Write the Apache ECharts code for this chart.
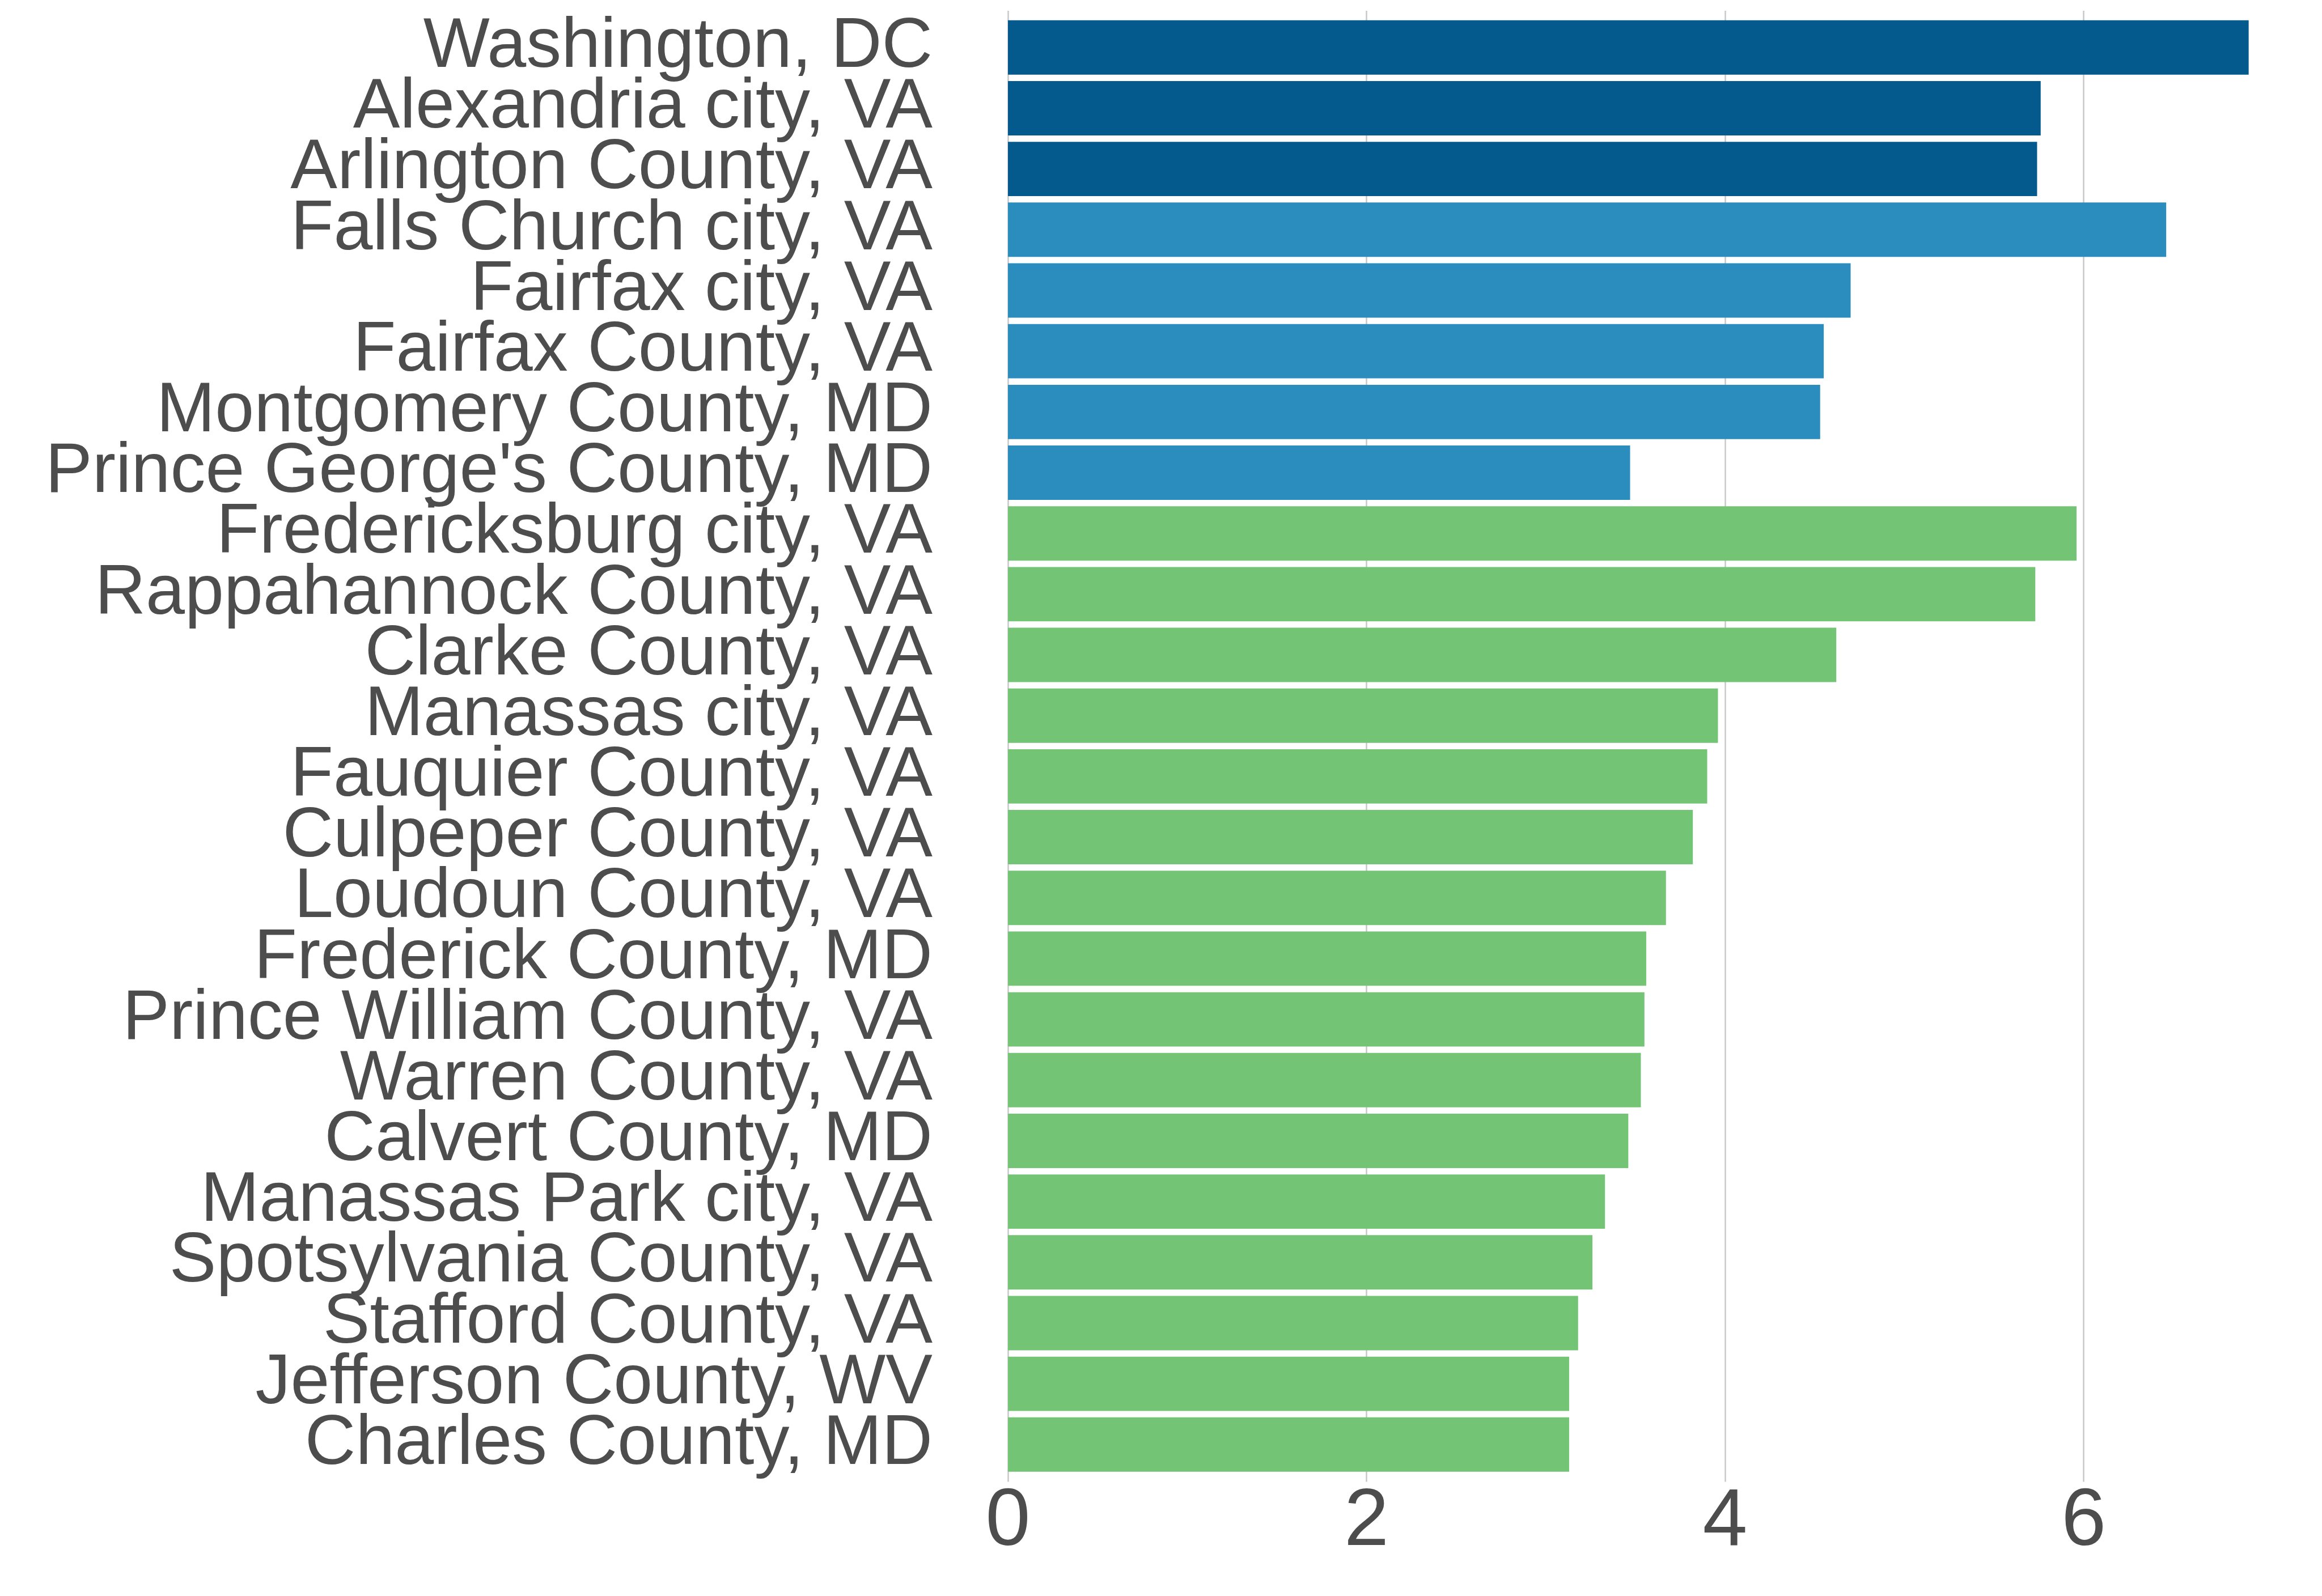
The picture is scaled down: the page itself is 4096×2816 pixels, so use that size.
<!DOCTYPE html>
<html>
<head>
<meta charset="utf-8">
<script src="https://cdn.jsdelivr.net/npm/echarts@6/dist/echarts.min.js"></script>
<style>
html, body { margin: 0; padding: 0; background: #ffffff; }
#chart { width: 4096px; height: 2816px; }
</style>
</head>
<body>
<div id="chart"></div>
<script>
const categories = [
  "Washington, DC", "Alexandria city, VA", "Arlington County, VA",
  "Falls Church city, VA", "Fairfax city, VA", "Fairfax County, VA",
  "Montgomery County, MD", "Prince George's County, MD",
  "Fredericksburg city, VA", "Rappahannock County, VA", "Clarke County, VA",
  "Manassas city, VA", "Fauquier County, VA", "Culpeper County, VA",
  "Loudoun County, VA", "Frederick County, MD", "Prince William County, VA",
  "Warren County, VA", "Calvert County, MD", "Manassas Park city, VA",
  "Spotsylvania County, VA", "Stafford County, VA", "Jefferson County, WV",
  "Charles County, MD"
];
const values = [
  6.92, 5.76, 5.74, 6.46, 4.70, 4.55, 4.53, 3.47,
  5.96, 5.73, 4.62, 3.96, 3.90, 3.82, 3.67, 3.56,
  3.55, 3.53, 3.46, 3.33, 3.26, 3.18, 3.13, 3.13
];
const groups = [
  0, 0, 0, 1, 1, 1, 1, 1,
  2, 2, 2, 2, 2, 2, 2, 2,
  2, 2, 2, 2, 2, 2, 2, 2
];
const xTicks = [0, 2, 4, 6];

const groupColors = ["#045a8d", "#2b8cbe", "#74c476"];
const textColor = "#4d4d4d";
const gridColor = "#c8c8c8";
const fontFamily = "'Liberation Sans', Arial, Helvetica, sans-serif";
const xMax = 7.329;

const chart = echarts.init(document.getElementById('chart'), null, { renderer: 'canvas' });
chart.setOption({
  animation: false,
  backgroundColor: '#ffffff',
  grid: [
    { left: 1778, right: 0, top: 30.2, height: 2572.2, containLabel: false },
    { left: 1778, right: 0, top: 19, bottom: 201.5, containLabel: false }
  ],
  xAxis: [
    {
      type: 'value',
      gridIndex: 0,
      min: 0,
      max: xMax,
      interval: 2,
      axisLine: { show: false },
      axisTick: { show: false },
      splitLine: { show: false },
      axisLabel: {
        color: textColor,
        fontFamily: fontFamily,
        fontSize: 142,
        margin: 13,
        showMaxLabel: false,
        formatter: function (v) { return xTicks.indexOf(v) >= 0 ? String(v) : ''; }
      }
    },
    {
      type: 'value',
      gridIndex: 1,
      min: 0,
      max: xMax,
      interval: 2,
      axisLine: { show: false },
      axisTick: { show: false },
      axisLabel: { show: false },
      splitLine: { show: true, showMaxLine: false, lineStyle: { color: gridColor, width: 2.5 } }
    }
  ],
  yAxis: [
    {
      type: 'category',
      gridIndex: 0,
      data: categories,
      inverse: true,
      axisLine: { show: false },
      axisTick: { show: false },
      splitLine: { show: false },
      axisLabel: {
        color: textColor,
        fontFamily: fontFamily,
        fontSize: 124,
        margin: 133,
        padding: [10, 0, 0, 0],
        interval: 0
      }
    },
    {
      type: 'value',
      gridIndex: 1,
      min: 0,
      max: 1,
      show: false
    }
  ],
  series: [{
    type: 'bar',
    xAxisIndex: 0,
    yAxisIndex: 0,
    barCategoryGap: '10.5%',
    data: values.map(function (v, i) {
      return { value: v, itemStyle: { color: groupColors[groups[i]] } };
    })
  }]
});
</script>
</body>
</html>
